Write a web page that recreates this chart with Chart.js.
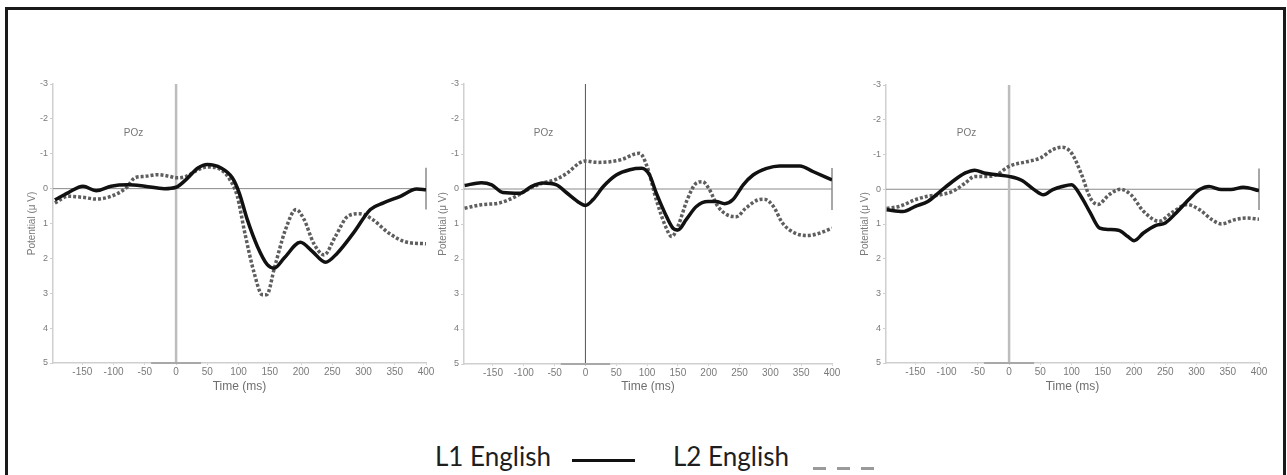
<!DOCTYPE html>
<html>
<head>
<meta charset="utf-8">
<script src="https://cdn.jsdelivr.net/npm/chart.js@4/dist/chart.umd.min.js"></script>
<style>
  body { margin: 0; background: #fff; width: 1287px; height: 475px; overflow: hidden; position: relative; font-family: "Liberation Sans", Arial, sans-serif; }
  .frame { position: absolute; left: 5px; top: 7px; width: 1275px; height: 500px; border: 3px solid #1a1a1a; box-sizing: content-box; }
  .panel { position: absolute; }
  .legend-text { position: absolute; top: 441px; font-family: Lato, "Open Sans", sans-serif; font-size: 26px; line-height: 30px; color: #1e1e1e; white-space: nowrap; }
  .swatch { position: absolute; height: 3px; }
</style>
</head>
<body>
<div class="frame"></div>
<div class="panel" id="box1"><canvas id="c1"></canvas></div>
<div class="panel" id="box2"><canvas id="c2"></canvas></div>
<div class="panel" id="box3"><canvas id="c3"></canvas></div>

<div class="legend-text" style="left:435px">L1 English</div>
<div class="swatch" style="left:572px; top:459px; width:63px; background:#111"></div>
<div class="legend-text" style="left:673px">L2 English</div>
<div class="swatch" style="left:813px; top:467px; width:13px; background:#9a9a9a"></div>
<div class="swatch" style="left:837px; top:467px; width:13px; background:#9a9a9a"></div>
<div class="swatch" style="left:861px; top:467px; width:13px; background:#9a9a9a"></div>

<script>
// axes
const timeTicks = [-150, -100, -50, 0, 50, 100, 150, 200, 250, 300, 350, 400];
const potentialTicks = [-3, -2, -1, 0, 1, 2, 3, 4, 5];
const channelName = 'POz';

// panel 1 (in µV, negative up)
const p1L1Time = [-194, -173, -149, -128, -104, -77, -50, -19, 0, 16, 35, 50, 72, 90, 101, 114, 130, 146, 157, 173, 199, 218, 239, 258, 284, 311, 332, 359, 385, 400];
const p1L1 = [0.32, 0.12, -0.07, 0.06, -0.07, -0.11, -0.07, 0.0, -0.04, -0.26, -0.59, -0.69, -0.59, -0.31, 0.12, 0.89, 1.65, 2.18, 2.28, 1.99, 1.54, 1.8, 2.11, 1.85, 1.27, 0.6, 0.41, 0.22, 0.01, 0.03];
const p1L2Time = [-194, -173, -149, -128, -104, -80, -66, -50, -30, -10, 0, 16, 35, 50, 72, 86, 98, 110, 125, 138, 145, 158, 175, 192, 205, 220, 237, 255, 275, 294, 315, 340, 370, 400];
const p1L2 = [0.41, 0.22, 0.25, 0.3, 0.22, -0.02, -0.31, -0.35, -0.4, -0.35, -0.31, -0.35, -0.54, -0.62, -0.54, -0.26, 0.22, 1.27, 2.42, 3.04, 3.04, 2.23, 1.18, 0.6, 0.89, 1.56, 1.9, 1.37, 0.79, 0.72, 0.89, 1.27, 1.54, 1.58];

// panel 2
const p2L1Time = [-196, -169, -152, -134, -106, -88, -69, -47, -31, -9, 0, 12, 29, 50, 72, 91, 104, 115, 129, 142, 150, 164, 180, 199, 212, 226, 239, 256, 272, 294, 315, 348, 369, 400];
const p2L1 = [-0.1, -0.18, -0.12, 0.1, 0.12, -0.07, -0.17, -0.12, 0.1, 0.4, 0.47, 0.31, -0.07, -0.4, -0.55, -0.59, -0.4, 0.12, 0.69, 1.12, 1.17, 0.86, 0.5, 0.36, 0.36, 0.42, 0.31, -0.12, -0.4, -0.59, -0.66, -0.66, -0.5, -0.26];
const p2L2Time = [-196, -169, -140, -115, -90, -69, -50, -30, -10, 0, 20, 40, 60, 80, 88, 100, 115, 130, 140, 150, 165, 180, 190, 200, 215, 230, 245, 260, 280, 290, 305, 320, 340, 360, 380, 400];
const p2L2 = [0.55, 0.45, 0.4, 0.23, -0.02, -0.17, -0.26, -0.45, -0.74, -0.8, -0.76, -0.78, -0.85, -1.0, -1.02, -0.64, 0.31, 1.07, 1.36, 1.07, 0.31, -0.17, -0.21, -0.02, 0.5, 0.74, 0.79, 0.55, 0.31, 0.29, 0.5, 0.98, 1.26, 1.33, 1.26, 1.12];

// panel 3
const p3L1Time = [-196, -170, -150, -130, -110, -90, -70, -55, -40, -20, 0, 20, 40, 55, 70, 85, 100, 115, 130, 145, 160, 175, 190, 200, 215, 235, 250, 270, 290, 305, 320, 340, 355, 375, 400];
const p3L1 = [0.59, 0.64, 0.49, 0.35, 0.06, -0.23, -0.47, -0.55, -0.47, -0.42, -0.37, -0.26, 0.01, 0.16, 0.01, -0.08, -0.13, 0.2, 0.68, 1.12, 1.16, 1.18, 1.36, 1.48, 1.26, 1.04, 0.97, 0.63, 0.25, 0.01, -0.08, 0.01, 0.01, -0.06, 0.04];
const p3L2Time = [-196, -175, -150, -130, -110, -90, -70, -55, -35, -20, 0, 30, 50, 70, 85, 100, 115, 130, 142, 160, 178, 195, 215, 240, 260, 285, 305, 325, 340, 360, 380, 400];
const p3L2 = [0.55, 0.49, 0.3, 0.2, 0.16, 0.06, -0.18, -0.37, -0.37, -0.42, -0.66, -0.8, -0.9, -1.14, -1.21, -1.04, -0.47, 0.25, 0.44, 0.16, 0.0, 0.16, 0.63, 0.92, 0.68, 0.44, 0.59, 0.88, 1.0, 0.88, 0.83, 0.86];

const toPoints = (t, v) => t.map((x, i) => ({ x: x, y: v[i] }));

Chart.defaults.font.family = '"Liberation Sans", Arial, sans-serif';

// reference lines: zero line, stimulus onset, end marker, label
const refLines = {
    id: 'refLines',
    beforeDatasetsDraw(chart, args, opts) {
        const ctx = chart.ctx;
        const xs = chart.scales.x, ys = chart.scales.y;
        ctx.save();
        // horizontal 0 µV line
        ctx.strokeStyle = '#8a8a8a';
        ctx.lineWidth = 1;
        ctx.beginPath();
        ctx.moveTo(xs.left, ys.getPixelForValue(0));
        ctx.lineTo(xs.getPixelForValue(400), ys.getPixelForValue(0));
        ctx.stroke();
        // stimulus onset
        ctx.strokeStyle = opts.onsetColor;
        ctx.lineWidth = opts.onsetWidth;
        ctx.beginPath();
        ctx.moveTo(xs.getPixelForValue(0), ys.top);
        ctx.lineTo(xs.getPixelForValue(0), ys.bottom);
        ctx.stroke();
        // baseline mark on the time axis
        ctx.strokeStyle = '#a8a8a8';
        ctx.lineWidth = 2;
        ctx.beginPath();
        ctx.moveTo(xs.getPixelForValue(-40), ys.bottom);
        ctx.lineTo(xs.getPixelForValue(40), ys.bottom);
        ctx.stroke();
        // end marker
        ctx.strokeStyle = '#8a8a8a';
        ctx.lineWidth = 1.5;
        ctx.beginPath();
        ctx.moveTo(xs.getPixelForValue(400), ys.getPixelForValue(-0.6));
        ctx.lineTo(xs.getPixelForValue(400), ys.getPixelForValue(0.6));
        ctx.stroke();
        // channel label
        ctx.fillStyle = '#777';
        ctx.font = '10px "Liberation Sans", Arial, sans-serif';
        ctx.textAlign = 'center';
        ctx.textBaseline = 'middle';
        ctx.fillText(channelName, xs.getPixelForValue(-68), ys.getPixelForValue(-1.6));
        ctx.restore();
    }
};

function makePanel(n, plot, l1, l2, onset) {
    const yAxisW = 31;
    const left = plot.left - yAxisW;
    const top = 74, bottom = 398;
    const box = document.getElementById('box' + n);
    box.style.left = left + 'px';
    box.style.top = top + 'px';
    box.style.width = (plot.right + 14 - left) + 'px';
    box.style.height = (bottom - top) + 'px';

    return new Chart(document.getElementById('c' + n), {
        type: 'line',
        data: {
            datasets: [
                {
                    label: 'L1 English',
                    data: l1,
                    borderColor: '#111',
                    borderWidth: 3.5,
                    pointRadius: 0,
                    cubicInterpolationMode: 'monotone',
                    fill: false
                },
                {
                    label: 'L2 English',
                    data: l2,
                    borderColor: '#5e5e5e',
                    borderWidth: 3.5,
                    borderDash: [3, 2],
                    pointRadius: 0,
                    cubicInterpolationMode: 'monotone',
                    fill: false
                }
            ]
        },
        options: {
            responsive: true,
            maintainAspectRatio: false,
            animation: false,
            layout: { padding: { top: plot.top - top, right: 14, left: 0, bottom: 0 } },
            plugins: {
                legend: { display: false },
                tooltip: { enabled: false },
                refLines: { onsetColor: onset.color, onsetWidth: onset.width }
            },
            scales: {
                x: {
                    type: 'linear',
                    min: -197,
                    max: 400,
                    afterBuildTicks: s => { s.ticks = timeTicks.map(v => ({ value: v })); },
                    afterFit: s => { s.height = bottom - plot.bottom; },
                    grid: { drawOnChartArea: false, tickLength: 2, color: '#cfcfcf' },
                    border: { color: '#cfcfcf', width: 1.5 },
                    ticks: { color: '#7a7a7a', font: { size: 10 }, padding: 1, maxRotation: 0, autoSkip: false },
                    title: { display: true, text: 'Time (ms)', color: '#6f6f6f', font: { size: 12 }, padding: { top: 0, bottom: 4 } }
                },
                y: {
                    type: 'linear',
                    reverse: true,
                    min: -3,
                    max: 5,
                    afterBuildTicks: s => { s.ticks = potentialTicks.map(v => ({ value: v })); },
                    afterFit: s => { s.width = yAxisW; },
                    grid: { drawOnChartArea: false, tickLength: 3, color: '#cfcfcf' },
                    border: { color: '#cfcfcf', width: 1.5 },
                    ticks: { color: '#7a7a7a', font: { size: 9 }, padding: 2 },
                    title: { display: true, text: 'Potential (μ V)', color: '#7a7a7a', font: { size: 10 }, padding: { top: 4, bottom: 0 } }
                }
            }
        },
        plugins: [refLines]
    });
}

makePanel(1, { left: 53, right: 426, top: 84, bottom: 363 }, toPoints(p1L1Time, p1L1), toPoints(p1L2Time, p1L2), { color: '#bdbdbd', width: 2.5 });
makePanel(2, { left: 464, right: 832, top: 84, bottom: 364 }, toPoints(p2L1Time, p2L1), toPoints(p2L2Time, p2L2), { color: '#555', width: 1 });
makePanel(3, { left: 886, right: 1259, top: 85, bottom: 363 }, toPoints(p3L1Time, p3L1), toPoints(p3L2Time, p3L2), { color: '#bdbdbd', width: 2.5 });
</script>
</body>
</html>
